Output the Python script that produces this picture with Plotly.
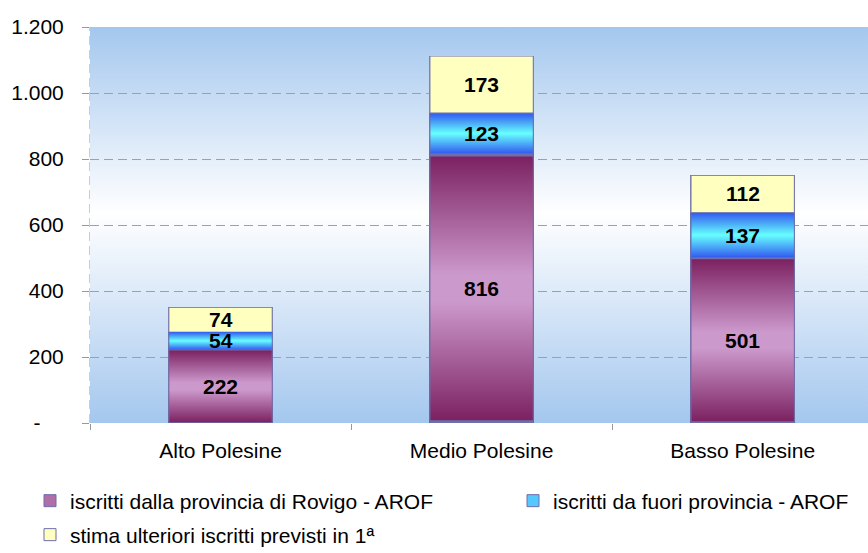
import base64
import plotly.graph_objects as go

# ---- data ----
categories = ["Alto Polesine", "Medio Polesine", "Basso Polesine"]
rovigo = [222, 816, 501]
fuori = [54, 123, 137]
stima = [74, 173, 112]
series_names = [
    "iscritti dalla provincia di Rovigo - AROF",
    "iscritti da fuori provincia - AROF",
    "stima ulteriori iscritti previsti in 1ª",
]
y_tickvals = [0, 200, 400, 600, 800, 1000, 1200]
y_ticktext = ["-", "200", "400", "600", "800", "1.000", "1.200"]

# ---- styles ----
FONT = "Liberation Sans, Arial, sans-serif"
FS = 21
legend_colors = ["#b06fa6", "#55c8ff", "#ffffc0"]
gradients = [
    [(0, "#7a1f5f"), (0.45, "#cc99cc"), (0.55, "#cc99cc"), (1, "#7a1f5f")],
    [(0, "#3258f0"), (0.5, "#66ffff"), (1, "#3258f0")],
    [(0, "#ffffc0"), (1, "#ffffc0")],
]
OUTLINE = "#6e6eaa"
W, H = 868, 553


def svg_uri(stops, stroke=None):
    st = "".join(f"<stop offset='{o}' stop-color='{c}'/>" for o, c in stops)
    stroke_attr = (
        f" stroke='{stroke}' stroke-width='2' vector-effect='non-scaling-stroke'"
        if stroke else ""
    )
    svg = (
        "<svg xmlns='http://www.w3.org/2000/svg' width='100' height='100' "
        "viewBox='0 0 100 100' preserveAspectRatio='none'>"
        "<defs><linearGradient id='g' x1='0' y1='0' x2='0' y2='1'>"
        f"{st}</linearGradient></defs>"
        f"<rect x='0' y='0' width='100' height='100' fill='url(#g)'{stroke_attr}/>"
        "</svg>"
    )
    return "data:image/svg+xml;base64," + base64.b64encode(svg.encode()).decode()


series = [rovigo, fuori, stima]
legends = ["legend", "legend2", "legend3"]
BAR_W = 0.4

fig = go.Figure()
for k, vals in enumerate(series):
    fig.add_trace(go.Bar(
        x=categories, y=vals, name=series_names[k], width=BAR_W,
        marker=dict(color=legend_colors[k], line=dict(color=OUTLINE, width=1)),
        legend=legends[k], showlegend=True,
    ))

images = [dict(
    source=svg_uri([(0, "#a4c7ee"), (0.47, "#ffffff"), (1, "#a4c7ee")]),
    xref="x domain", yref="y domain", x=0, y=1, sizex=1, sizey=1,
    xanchor="left", yanchor="top", sizing="stretch", layer="below",
)]
annotations = []
for i, cat in enumerate(categories):
    base = 0
    for k, vals in enumerate(series):
        v = vals[i]
        images.append(dict(
            source=svg_uri(gradients[k], OUTLINE),
            xref="x", yref="y", x=cat, y=base + v, sizex=BAR_W, sizey=v,
            xanchor="center", yanchor="top", sizing="stretch", layer="above",
        ))
        annotations.append(dict(
            x=cat, y=base + v / 2, xref="x", yref="y", text=f"<b>{v}</b>",
            showarrow=False, font=dict(family=FONT, size=FS, color="black"),
        ))
        base += v

ticktext = [t if t != "-" else "-\u00a0\u00a0\u00a0\u00a0" for t in y_ticktext]


def leg(px, py):
    return dict(orientation="h", xref="container", yref="container",
                x=px / W, xanchor="left", y=1 - py / H, yanchor="middle",
                bgcolor="rgba(0,0,0,0)",
                font=dict(family=FONT, size=FS, color="black"))


fig.update_layout(
    width=W, height=H,
    margin=dict(l=90, r=0, t=27, b=130, autoexpand=False),
    paper_bgcolor="white", plot_bgcolor="white",
    barmode="stack", showlegend=True,
    font=dict(family=FONT, size=FS, color="black"),
    images=images,
    annotations=annotations,
    shapes=[dict(type="line", xref="x domain", yref="y domain", x0=0, x1=0,
                 y0=0, y1=1, line=dict(color="#999999", width=1, dash="9px,5px"),
                 layer="below")],
    xaxis=dict(
        type="category", range=[-0.5, 2.48], showgrid=False, zeroline=False,
        showline=False, ticks="outside", tickson="boundaries", ticklen=6,
        tickcolor="#999999", ticklabelstandoff=13,
        tickfont=dict(family=FONT, size=FS, color="black"),
    ),
    yaxis=dict(
        range=[0, 1200], tickvals=y_tickvals, ticktext=ticktext,
        showgrid=True, gridcolor="#a0a0a0", griddash="9px,5px", gridwidth=1,
        zeroline=False, showline=False, ticks="outside", ticklen=7,
        tickcolor="#999999", ticklabelstandoff=14,
        tickfont=dict(family=FONT, size=FS, color="black"),
    ),
    legend=leg(30, 501),
    legend2=leg(513, 501),
    legend3=leg(30, 535),
)

fig.write_html(
    "out.html",
    config={"displayModeBar": False},
    post_script="document.body.style.margin='0';document.body.style.overflow='hidden';",
)
